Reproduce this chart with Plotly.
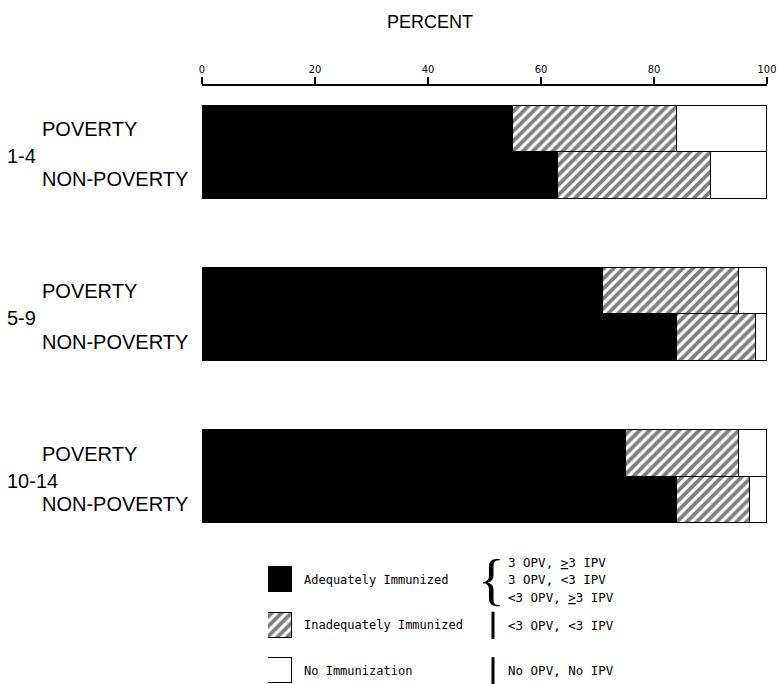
import plotly.graph_objects as go

# ---------------- data ----------------
age_groups = ["1-4", "5-9", "10-14"]
strata = ["POVERTY", "NON-POVERTY"]
adequate = [55, 63, 71, 84, 75, 84]        # Adequately Immunized (%)
inadequate = [29, 27, 24, 14, 20, 13]      # Inadequately Immunized (%)
no_immun = [16, 10, 5, 2, 5, 3]            # No Immunization (%)
tick_vals = [0, 20, 40, 60, 80, 100]
series_names = ["Adequately Immunized", "Inadequately Immunized", "No Immunization"]
series_desc = [["3 OPV, <u>&gt;</u>3 IPV", "3 OPV, &lt;3 IPV", "&lt;3 OPV, <u>&gt;</u>3 IPV"],
               ["&lt;3 OPV, &lt;3 IPV"],
               ["No OPV, No IPV"]]

# ---------------- layout helpers ----------------
OFF = 0                      # body margin removed in post_script
W, H = 778 - OFF, 684 - OFF
PL, PR, PT = 202, 767, 86    # plot edges in window pixels
L = PL - OFF
R = W - (PR - OFF)
T = PT - OFF
PW = W - L - R
PH = H - T
GROUP_STEP = 3.5
pos = [g * GROUP_STEP + i for g in range(len(age_groups)) for i in range(len(strata))]

mono = "DejaVu Sans Mono"
sans = "Liberation Sans, Arial"


def px_x(p):
    return (p - PL) / PW


def px_y(p):
    return (684 - p) / PH


styles = [
    dict(color="black", line=dict(color="black", width=1.5)),
    dict(color="white", line=dict(color="black", width=1.5),
         pattern=dict(shape="/", fgcolor="black", bgcolor="white", size=7, solidity=0.55)),
    dict(color="white", line=dict(color="black", width=1.5)),
]

fig = go.Figure()
for name, vals, st in zip(series_names, [adequate, inadequate, no_immun], styles):
    fig.add_trace(go.Bar(y=pos, x=vals, orientation="h", width=1.0, name=name,
                         marker=st, showlegend=False, hoverinfo="x+name"))

# legend swatches on their own small axes
for name, st in zip(series_names, styles):
    fig.add_trace(go.Bar(y=[name], x=[1], orientation="h", width=0.55, name=name,
                         marker=st, showlegend=False, xaxis="x2", yaxis="y2",
                         hoverinfo="skip"))

annotations = []
annotations.append(dict(text="PERCENT", xref="paper", yref="paper", x=px_x(430), y=px_y(22),
                        showarrow=False, font=dict(family=sans, size=18, color="black"),
                        xanchor="center", yanchor="middle"))

for g, grp in enumerate(age_groups):
    for i, st_name in enumerate(strata):
        annotations.append(dict(text=st_name, xref="paper", yref="y", x=px_x(40),
                                y=pos[g * 2 + i], xanchor="left", yanchor="middle",
                                yshift=0 if i == 0 else -4, showarrow=False,
                                font=dict(family=sans, size=20, color="black")))
    annotations.append(dict(text=grp, xref="paper", yref="y", x=px_x(5),
                            y=(pos[g * 2] + pos[g * 2 + 1]) / 2, xanchor="left",
                            yanchor="middle", yshift=-4, showarrow=False,
                            font=dict(family=sans, size=20, color="black")))

shapes = []
for k, name in enumerate(series_names):
    annotations.append(dict(text=name, xref="paper", yref="y2", x=px_x(302), y=name,
                            xanchor="left", yanchor="middle", showarrow=False,
                            font=dict(family=mono, size=12, color="black")))
    lines = series_desc[k]
    n = len(lines)
    for j, ln in enumerate(lines):
        annotations.append(dict(text=ln, xref="paper", yref="y2", x=px_x(506), y=name,
                                xanchor="left", yanchor="middle",
                                yshift=(n - 1) / 2 * 17.5 - j * 17.5, showarrow=False,
                                font=dict(family=mono, size=12.5, color="black")))
    if n > 1:
        annotations.append(dict(text="{", xref="paper", yref="y2", x=px_x(491), y=name,
                                xanchor="center", yanchor="middle", showarrow=False,
                                font=dict(family="Liberation Serif", size=56, color="black")))
    else:
        shapes.append(dict(type="line", xref="paper", yref="y2", x0=px_x(493), x1=px_x(493),
                           y0=k - 0.3, y1=k + 0.3, line=dict(color="black", width=3)))

fig.update_layout(
    width=W, height=H,
    margin=dict(l=L, r=R, t=T, b=0, pad=0),
    paper_bgcolor="white", plot_bgcolor="white",
    barmode="stack", bargap=0,
    showlegend=False,
    xaxis=dict(range=[0, 100], side="top", anchor="y", showline=True, linewidth=2,
               linecolor="black", ticks="outside", ticklen=7, tickwidth=2,
               tickcolor="black", tickvals=tick_vals, showgrid=False, zeroline=False,
               ticklabeloverflow="allow",
               tickfont=dict(family="DejaVu Sans Condensed, DejaVu Sans", size=11,
                             color="black"), fixedrange=True),
    xaxis3=dict(range=[0, 100], side="top", anchor="y", overlaying="x", ticks="inside",
                ticklen=6, tickwidth=2, tickcolor="black", tickvals=tick_vals,
                showticklabels=False, showline=False, showgrid=False, zeroline=False),
    yaxis=dict(domain=[px_y(530), 1], range=[8.65, -0.93], visible=False, fixedrange=True),
    xaxis2=dict(domain=[px_x(268), px_x(292)], range=[0, 1], anchor="y2", visible=False),
    yaxis2=dict(domain=[0, px_y(557.25)], anchor="x2", type="category",
                categoryorder="array", categoryarray=series_names,
                range=[2.29, -0.5], visible=False),
    annotations=annotations,
    shapes=shapes,
)

fig.write_html("out.html",
               config={"displayModeBar": False},
               post_script="document.body.style.margin='0';"
                           "document.documentElement.style.overflow='hidden';"
                           "document.body.style.overflow='hidden';")
